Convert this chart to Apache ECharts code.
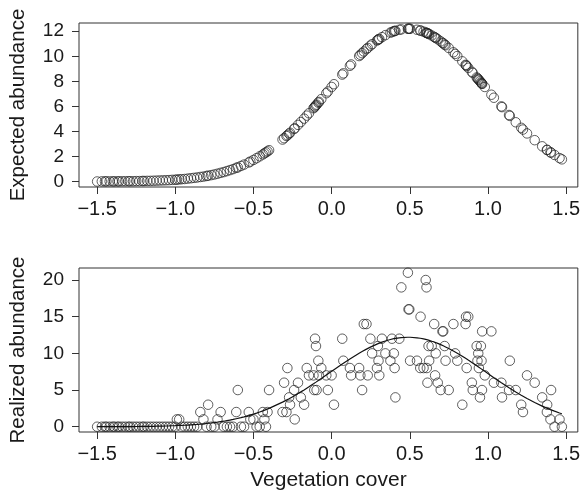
<!DOCTYPE html>
<html>
<head>
<meta charset="utf-8">
<title>Vegetation cover and abundance</title>
<script src="https://cdn.jsdelivr.net/npm/echarts@6/dist/echarts.min.js"></script>
<style>
  html, body { margin: 0; padding: 0; background: #fff; }
  #chart { width: 583px; height: 496px; }
</style>
</head>
<body>
<div id="chart"></div>
<script>
// Vegetation cover at each site (sorted)
const cover = [
  -1.50,-1.47,-1.45,-1.44,-1.42,-1.40,-1.39,-1.37,-1.36,-1.34,
  -1.32,-1.30,-1.29,-1.27,-1.25,-1.23,-1.21,-1.20,-1.18,-1.16,
  -1.14,-1.12,-1.10,-1.08,-1.06,-1.04,-1.02,-1.00,-0.99,-0.975,
  -0.96,-0.94,-0.92,-0.90,-0.88,-0.86,-0.84,-0.82,-0.80,-0.79,
  -0.77,-0.75,-0.73,-0.71,-0.69,-0.67,-0.65,-0.63,-0.61,-0.60,
  -0.58,-0.56,-0.53,-0.52,-0.50,-0.48,-0.46,-0.44,-0.43,-0.42,
  -0.41,-0.40,
  -0.314,-0.304,-0.289,-0.283,-0.272,-0.266,-0.24,-0.236,-0.215,-0.197,
  -0.176,-0.159,-0.145,-0.116,-0.111,-0.106,-0.100,-0.096,-0.085,-0.081,
  -0.066,-0.034,-0.024,0.0,0.015,0.068,0.075,0.117,0.125,0.176,
  0.184,0.195,0.206,0.223,0.231,0.248,0.259,0.29,0.296,0.30,
  0.305,0.322,0.344,0.376,0.386,0.398,0.403,0.408,0.433,0.446,
  0.488,0.492,0.497,0.502,0.546,0.567,0.569,0.588,0.602,0.607,
  0.609,0.613,0.62,0.624,0.64,0.656,0.662,0.666,0.679,0.698,
  0.709,0.714,0.723,0.729,0.749,0.779,0.79,0.804,0.836,0.857,
  0.86,0.864,0.874,0.897,0.903,0.928,0.933,0.938,0.942,0.949,
  0.955,0.959,0.962,0.963,0.98,1.022,1.038,1.086,1.09,1.135,
  1.14,1.178,1.213,1.224,1.25,1.299,1.347,1.377,1.379,1.40,
  1.404,1.426,1.458,1.473
];

// Expected abundance at each site
const expected = [
  0.00,0.01,0.01,0.01,0.01,0.01,0.01,0.01,0.01,0.02,
  0.02,0.02,0.02,0.02,0.03,0.03,0.04,0.04,0.05,0.05,
  0.06,0.07,0.08,0.09,0.10,0.11,0.13,0.14,0.15,0.17,
  0.18,0.20,0.23,0.26,0.29,0.32,0.36,0.39,0.44,0.46,
  0.51,0.56,0.62,0.69,0.75,0.83,0.91,0.99,1.09,1.13,
  1.24,1.35,1.52,1.59,1.72,1.86,2.01,2.16,2.25,2.33,
  2.41,2.50,
  3.35,3.46,3.63,3.69,3.82,3.89,4.20,4.25,4.52,4.75,
  5.02,5.26,5.45,5.85,5.92,6.00,6.08,6.14,6.30,6.36,
  6.58,7.05,7.19,7.55,7.77,8.54,8.64,9.24,9.35,10.02,
  10.12,10.25,10.38,10.58,10.67,10.85,10.97,11.26,11.32,11.35,
  11.39,11.53,11.69,11.89,11.94,12.00,12.02,12.04,12.12,12.15,
  12.20,12.20,12.20,12.20,12.12,12.06,12.05,11.97,11.90,11.87,
  11.86,11.84,11.80,11.77,11.66,11.55,11.50,11.47,11.36,11.19,
  11.08,11.03,10.94,10.88,10.67,10.32,10.19,10.02,9.60,9.32,
  9.28,9.22,9.08,8.76,8.67,8.31,8.24,8.17,8.11,8.01,
  7.92,7.86,7.81,7.80,7.55,6.93,6.69,6.00,5.94,5.31,
  5.24,4.73,4.29,4.15,3.84,3.30,2.81,2.53,2.52,2.33,
  2.30,2.12,1.87,1.77
];

// Realized (counted) abundance at each site
const realized = [
  0,0,0,0,0,0,0,0,0,0,
  0,0,0,0,0,0,0,0,0,0,
  0,0,0,0,0,0,0,0,1,1,
  0,0,0,0,0,0,2,1,0,3,
  0,0,1,2,0,0,0,0,2,5,
  0,0,2,1,1,0,0,2,1,0,
  2,5,
  2,6,2,8,4,3,5,1,6,4,
  3,8,7,7,5,12,11,5,9,7,
  8,7,5,7,3,12,9,8,7,8,
  7,5,14,14,7,12,10,8,11,9,
  7,12,10,9,12,10,8,4,12,19,
  21,16,16,9,9,8,15,8,20,19,
  8,6,11,9,11,14,7,10,6,5,
  13,13,11,9,5,14,10,9,3,14,
  15,8,15,6,5,11,9,10,8,4,
  11,9,5,13,7,13,6,6,4,5,
  9,5,3,2,7,6,4,2,3,1,
  5,0,1,0
];

// Axis tick positions
const coverTicks = [-1.5, -1.0, -0.5, 0.0, 0.5, 1.0, 1.5];
const expectedTicks = [0, 2, 4, 6, 8, 10, 12];
const realizedTicks = [0, 5, 10, 15, 20];

const FONT = 'Liberation Sans, Arial, Helvetica, sans-serif';
const INK = '#1a1a1a';

const fmtCover = v => (v < 0 ? '\u2212' : '') + Math.abs(v).toFixed(1);

function xAxisFor(gridIndex, withName) {
  const ax = {
    type: 'value',
    gridIndex: gridIndex,
    min: -1.616,
    max: 1.575,
    axisLine: { show: false, onZero: false },
    splitLine: { show: false },
    axisTick: {
      show: true, length: 7, inside: false,
      customValues: coverTicks,
      lineStyle: { color: '#333', width: 1 }
    },
    axisLabel: {
      show: true, customValues: coverTicks, formatter: fmtCover,
      fontSize: 20, fontFamily: FONT, color: INK, margin: 12
    }
  };
  if (withName) {
    ax.name = 'Vegetation cover';
    ax.nameLocation = 'middle';
    ax.nameGap = 38;
    ax.nameTextStyle = { fontSize: 21, fontFamily: FONT, color: INK };
  }
  return ax;
}

function yAxisFor(gridIndex, min, max, ticks, name) {
  return {
    type: 'value',
    gridIndex: gridIndex,
    min: min,
    max: max,
    name: name,
    nameLocation: 'middle',
    nameGap: 50,
    nameTextStyle: { fontSize: 20.5, fontFamily: FONT, color: INK },
    axisLine: { show: false, onZero: false },
    splitLine: { show: false },
    axisTick: {
      show: true, length: 7, inside: false,
      customValues: ticks,
      lineStyle: { color: '#333', width: 1 }
    },
    axisLabel: {
      show: true, customValues: ticks,
      fontSize: 19, fontFamily: FONT, color: INK, margin: 15
    }
  };
}

const circleStyle = {
  color: 'rgba(0,0,0,0)',
  borderColor: '#222',
  borderWidth: 0.9
};

const chart = echarts.init(document.getElementById('chart'), null, { renderer: 'canvas' });
chart.setOption({
  animation: false,
  backgroundColor: '#fff',
  grid: [
    { left: 79, right: 3, top: 23, height: 164, show: true, borderColor: '#333', borderWidth: 1, backgroundColor: 'transparent' },
    { left: 79, right: 3, top: 268, height: 164, show: true, borderColor: '#333', borderWidth: 1, backgroundColor: 'transparent' }
  ],
  xAxis: [xAxisFor(0, false), xAxisFor(1, true)],
  yAxis: [
    yAxisFor(0, -0.44, 12.66, expectedTicks, 'Expected abundance'),
    yAxisFor(1, -0.72, 21.64, realizedTicks, 'Realized abundance')
  ],
  series: [
    {
      type: 'scatter', xAxisIndex: 0, yAxisIndex: 0,
      symbol: 'circle', symbolSize: 9.5,
      itemStyle: circleStyle,
      data: cover.map((x, i) => [x, expected[i]])
    },
    {
      type: 'scatter', xAxisIndex: 1, yAxisIndex: 1,
      symbol: 'circle', symbolSize: 9.5,
      itemStyle: circleStyle,
      data: cover.map((x, i) => [x, realized[i]])
    },
    {
      type: 'line', xAxisIndex: 1, yAxisIndex: 1,
      showSymbol: false, smooth: false,
      lineStyle: { color: '#111', width: 1.2 },
      data: cover.map((x, i) => [x, expected[i]]),
      z: 3
    }
  ]
});
</script>
</body>
</html>
